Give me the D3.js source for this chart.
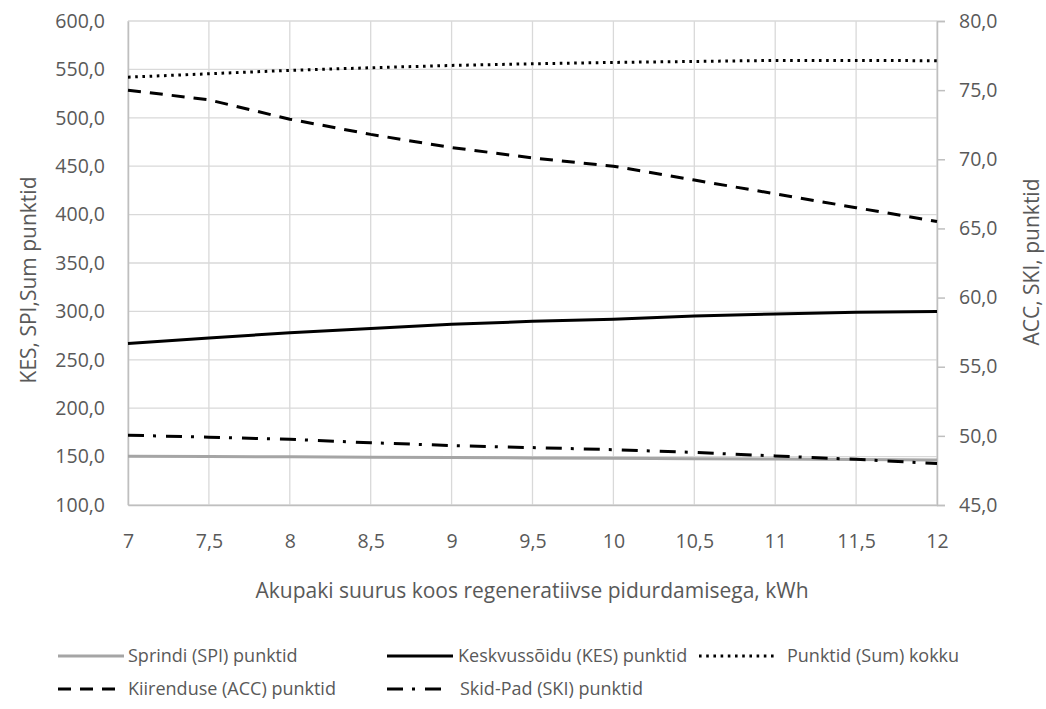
<!DOCTYPE html>
<html>
<head>
<meta charset="utf-8">
<script src="https://cdnjs.cloudflare.com/ajax/libs/d3/7.8.5/d3.min.js"></script>
<style>
  body { margin: 0; background: #fff; }
  svg text { font-family: "Open Sans", sans-serif; fill: #595959; }
</style>
</head>
<body>
<div id="chart"></div>
<script>
// values
var kwh = [7, 7.5, 8, 8.5, 9, 9.5, 10, 10.5, 11, 11.5, 12];
var spi = [150.4, 150.1, 149.8, 149.4, 149.0, 148.6, 148.2, 147.8, 147.4, 147.0, 146.6];
var kes = [266.9, 272.5, 278.0, 282.4, 286.6, 289.7, 292.0, 295.3, 297.4, 299.1, 299.8];
var sum = [542.0, 545.5, 549.0, 551.7, 554.1, 555.8, 557.2, 558.2, 559.3, 559.2, 559.0];
var acc = [75.0, 74.3, 72.9, 71.8, 70.85, 70.1, 69.5, 68.5, 67.5, 66.5, 65.5];
var ski = [50.05, 49.9, 49.75, 49.5, 49.3, 49.15, 49.0, 48.8, 48.55, 48.3, 48.0];

var leftTicks = [100, 150, 200, 250, 300, 350, 400, 450, 500, 550, 600];
var rightTicks = [45, 50, 55, 60, 65, 70, 75, 80];

var xTitle = "Akupaki suurus koos regeneratiivse pidurdamisega, kWh";
var leftTitle = "KES, SPI,Sum punktid";
var rightTitle = "ACC, SKI, punktid";

var series = [
	{ name: "Sprindi (SPI) punktid", values: spi, axis: "left", color: "#a5a5a5", dash: null },
	{ name: "Keskvussõidu (KES) punktid", values: kes, axis: "left", color: "#000", dash: null },
	{ name: "Punktid (Sum) kokku", values: sum, axis: "left", color: "#000", dash: "2.6,4.6" },
	{ name: "Kiirenduse (ACC) punktid", values: acc, axis: "right", color: "#000", dash: "13,9" },
	{ name: "Skid-Pad (SKI) punktid", values: ski, axis: "right", color: "#000", dash: "16,9,3,10" }
];

var width = 1046, height = 709;
var plot = { left: 128, right: 937, top: 21, bottom: 505 };
var tickFont = "19.5px", titleFont = "21px", legendFont = "18px";

var svg = d3.select("#chart").append("svg")
	.attr("width", width).attr("height", height);

var x = d3.scaleLinear().domain([7, 12]).range([plot.left, plot.right]);
var yL = d3.scaleLinear().domain([100, 600]).range([plot.bottom, plot.top]);
var yR = d3.scaleLinear().domain([45, 80]).range([plot.bottom, plot.top]);

var comma = function(d){ return d3.format(".1f")(d).replace(".", ","); };

// gridlines
var grid = svg.append("g").attr("stroke", "#d9d9d9").attr("stroke-width", 1.3);
grid.selectAll("line.h").data(leftTicks).enter().append("line")
	.attr("x1", plot.left).attr("x2", plot.right)
	.attr("y1", function(d){ return yL(d); }).attr("y2", function(d){ return yL(d); });
grid.selectAll("line.v").data(kwh).enter().append("line")
	.attr("y1", plot.top).attr("y2", plot.bottom)
	.attr("x1", function(d){ return x(d); }).attr("x2", function(d){ return x(d); });

// axes
var axL = svg.append("g").attr("transform", "translate(" + plot.left + ",0)")
	.call(d3.axisLeft(yL).tickValues(leftTicks).tickFormat(comma).tickSize(0).tickPadding(23));
var axR = svg.append("g").attr("transform", "translate(" + plot.right + ",0)")
	.call(d3.axisRight(yR).tickValues(rightTicks).tickFormat(comma).tickSize(8).tickPadding(14));
var axB = svg.append("g").attr("transform", "translate(0," + plot.bottom + ")")
	.call(d3.axisBottom(x).tickValues(kwh).tickSize(0)
		.tickFormat(function(d){ return String(d).replace(".", ","); }));

[axL, axR, axB].forEach(function(ax){
	ax.select(".domain").attr("stroke", "#bfbfbf").attr("stroke-width", 1.5);
	ax.selectAll(".tick line").attr("stroke", "#bfbfbf").attr("stroke-width", 1.5);
	ax.selectAll(".tick text").style("font-size", tickFont).attr("fill", "#595959");
});
axB.selectAll(".tick text").attr("y", 43).attr("dy", 0);

// axis titles
svg.append("text").attr("x", 532).attr("y", 598).attr("text-anchor", "middle")
	.style("font-size", titleFont).text(xTitle);
svg.append("text").attr("transform", "translate(36,280) rotate(-90)").attr("text-anchor", "middle")
	.style("font-size", titleFont).text(leftTitle);
svg.append("text").attr("transform", "translate(1039,262) rotate(-90)").attr("text-anchor", "middle")
	.style("font-size", titleFont).text(rightTitle);

// lines
var lineL = d3.line().x(function(d, i){ return x(kwh[i]); }).y(function(d){ return yL(d); });
var lineR = d3.line().x(function(d, i){ return x(kwh[i]); }).y(function(d){ return yR(d); });

series.forEach(function(s){
	svg.append("path")
		.datum(s.values)
		.attr("d", s.axis === "left" ? lineL : lineR)
		.attr("fill", "none")
		.attr("stroke", s.color)
		.attr("stroke-width", 3)
		.attr("stroke-dasharray", s.dash);
});

// legend
var legendPos = [
	{ x: 58, y: 656, len: 66, tx: 70 }, { x: 387, y: 656, len: 66, tx: 71 }, { x: 699, y: 656, len: 78, tx: 88 },
	{ x: 58, y: 689, len: 66, tx: 70 }, { x: 387, y: 689, len: 56, tx: 73 }
];
var legend = svg.append("g");
series.forEach(function(s, i){
	var p = legendPos[i];
	var g = legend.append("g").attr("transform", "translate(" + p.x + "," + p.y + ")");
	g.append("line").attr("x1", 0).attr("x2", p.len).attr("y1", 0).attr("y2", 0)
		.attr("stroke", s.color).attr("stroke-width", 3).attr("stroke-dasharray", s.dash);
	g.append("text").attr("x", p.tx).attr("y", 0).attr("dy", "0.36em")
		.style("font-size", legendFont).text(s.name);
});
</script>
</body>
</html>
